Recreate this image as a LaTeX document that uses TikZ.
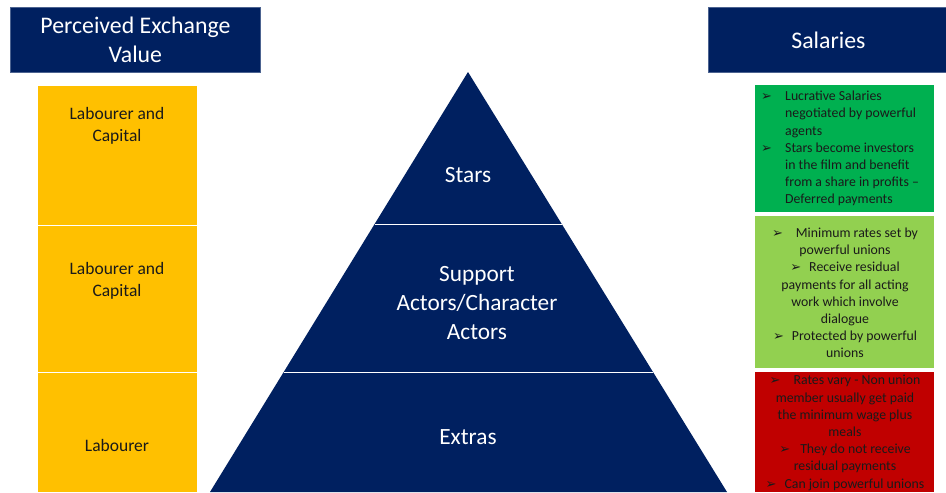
\documentclass[tikz,border=0pt]{standalone}
\usepackage{fontspec}
\setmainfont{Carlito}
\newfontfamily\symfont{DejaVu Sans}
\definecolor{navy}{HTML}{002060}
\definecolor{gold}{HTML}{FFC000}
\definecolor{leafgreen}{HTML}{00B050}
\definecolor{limegreen}{HTML}{92D050}
\definecolor{deepred}{HTML}{C00000}
\definecolor{ink}{HTML}{1A1A1A}
\newcommand{\arrowbul}{{\symfont\fontsize{13}{12}\selectfont ➢}}
\newcommand{\hangbul}{\makebox[24pt][l]{\arrowbul}}
\newcommand{\hangsp}{\hspace*{24pt}}
\begin{document}
\begin{tikzpicture}[x=1pt,y=-1pt,
  header/.style={fill=navy, draw=navy!70!white, line width=0.8pt, text=white, align=center,
    font=\fontsize{23.8}{29}\selectfont, inner sep=0pt, anchor=north west},
  tierlabel/.style={text=white, align=center, font=\fontsize{23.3}{29}\selectfont},
  valuelabel/.style={text=ink, align=center, font=\fontsize{17.5}{22.5}\selectfont},
  salarytext/.style={text=ink, font=\fontsize{13.8}{17.2}\selectfont, inner sep=0pt},
  divider/.style={white, line width=1pt}]
\useasboundingbox (0,0) rectangle (946,493);
\fill[white] (0,0) rectangle (946,493);

% column headers
\node[header, minimum width=250pt, minimum height=65pt] (pevhead) at (10,7)
  {Perceived Exchange\\Value};
\node[header, minimum width=240pt, minimum height=65pt] (salhead) at (708,7)
  {Salaries};

% perceived exchange value column
\fill[gold] (38,86) rectangle (197,492);
\draw[divider] (38,225) -- (197,225);
\draw[divider] (38,372) -- (197,372);
\node[valuelabel] (valstars) at (117,126) {Labourer and\\Capital};
\node[valuelabel] (valsupport) at (117,281) {Labourer and\\Capital};
\node[valuelabel] (valextras) at (117,445) {Labourer};

% pyramid of acting tiers
\fill[navy] (210,492) -- (468,72) -- (727,492) -- cycle;
\draw[divider] (374.6,224) -- (561.7,224);
\draw[divider] (283.7,372) -- (653,372);
\node[tierlabel] (stars) at (468,175) {Stars};
\node[tierlabel] (support) at (477,303) {Support\\Actors/Character\\Actors};
\node[tierlabel] (extras) at (468,437) {Extras};

% salary column
\fill[leafgreen] (755,85) rectangle (934,212);
\fill[limegreen] (755,216) rectangle (934,368);
\fill[deepred] (755,372) rectangle (934,492);

\node[salarytext, align=left, anchor=north west] (salstars) at (761,91)
  {\hangbul Lucrative Salaries\\
   \hangsp negotiated by powerful\\
   \hangsp agents\\
   \hangbul Stars become investors\\
   \hangsp in the film and benefit\\
   \hangsp from a share in profits –\\
   \hangsp Deferred payments};

\node[salarytext, align=center] (salsupport) at (845,293)
  {\arrowbul\hspace{13pt}Minimum rates set by\\
   powerful unions\\
   \arrowbul\hspace{8pt}Receive residual\\
   payments for all acting\\
   work which involve\\
   dialogue\\
   \arrowbul\hspace{8pt}Protected by powerful\\
   unions};

\node[salarytext, align=center] (salextras) at (845,433)
  {\arrowbul\hspace{13pt}Rates vary - Non union\\
   member usually get paid\\
   the minimum wage plus\\
   meals\\
   \arrowbul\hspace{10pt}They do not receive\\
   residual payments\\
   \arrowbul\hspace{8pt}Can join powerful unions};
\end{tikzpicture}
\end{document}
